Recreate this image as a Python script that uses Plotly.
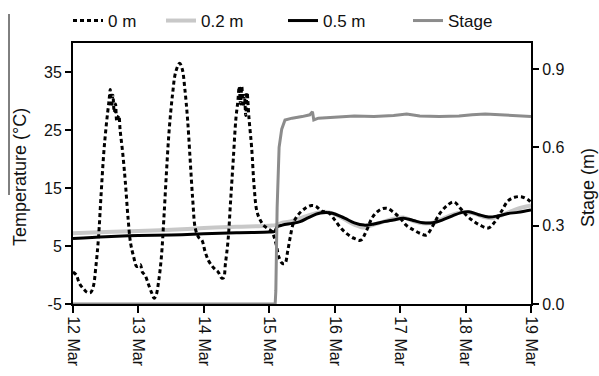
import pandas as pd
import plotly.graph_objects as go

START = pd.Timestamp("2013-03-12 00:00")

# ---- data (time in days since 12 Mar 00:00) ----
t_0m = [0.00, 0.05, 0.10, 0.17, 0.22, 0.27, 0.31, 0.35, 0.39, 0.43, 0.47, 0.51, 0.55, 0.57,
        0.59, 0.61, 0.63, 0.65, 0.67, 0.70, 0.72, 0.76, 0.80, 0.84, 0.88, 0.93, 0.97, 1.00,
        1.03, 1.06, 1.10, 1.15, 1.20, 1.24, 1.27, 1.31, 1.35, 1.39, 1.43, 1.47, 1.52, 1.57,
        1.63, 1.67, 1.71, 1.75, 1.79, 1.83, 1.87, 1.92, 1.97, 2.02, 2.07, 2.13, 2.17, 2.22,
        2.27, 2.30, 2.33, 2.37, 2.41, 2.45, 2.49, 2.52, 2.54, 2.56, 2.58, 2.60, 2.62, 2.64,
        2.66, 2.69, 2.73, 2.77, 2.81, 2.86, 2.92, 2.98, 3.04, 3.10, 3.15, 3.20, 3.24, 3.28,
        3.32, 3.37, 3.45, 3.55, 3.65, 3.72, 3.80, 3.90, 4.00, 4.10, 4.20, 4.30, 4.40, 4.48,
        4.58, 4.70, 4.80, 4.90, 5.00, 5.10, 5.20, 5.30, 5.40, 5.50, 5.60, 5.72, 5.82, 5.92,
        6.02, 6.12, 6.22, 6.35, 6.45, 6.55, 6.65, 6.75, 6.85, 6.95, 7.00]
temp_0m = [0.5, 0.0, -1.5, -2.5, -3.0, -3.0, -2.0, 1.5, 6.5, 14, 21, 26, 30, 32,
           29, 31, 28, 29.5, 26.5, 27.5, 25, 21, 16, 10, 5.5, 3, 1.5, 1.5,
           1.8, 0.5, 0, -1.5, -3.0, -4.0, -3.5, -1.0, 3, 10, 18, 25, 31, 35,
           36.5, 35.5, 32, 27, 20, 13, 8, 6.5, 6, 4, 2.5, 1.5, 1.0, 0.5,
           -0.5, -0.5, 2, 6, 13, 20, 27, 30, 32.5, 29.5, 32.5, 29, 31, 27.5,
           31.5, 27, 22, 15, 11, 9.5, 8.5, 8, 7.5, 5.5, 3.0, 2.0, 2.0, 4,
           6.5, 9, 10.5, 11.5, 12, 11.8, 11, 10.8, 9.5, 8.0, 7.0, 6.3, 6.0, 7.5,
           10, 11.3, 11.5, 10.8, 9.8, 8.5, 7.8, 7.2, 6.9, 8.5, 10.5, 12, 12.6, 11.5,
           10.2, 9.3, 8.6, 8.1, 9.2, 11, 12.8, 13.4, 13.5, 13, 12.5]

t_02m = [0.00, 0.5, 1.0, 1.5, 2.0, 2.5, 3.0, 3.1, 3.2, 3.3, 3.5, 3.7, 3.85, 4.0, 4.15,
         4.3, 4.45, 4.6, 4.75, 4.9, 5.05, 5.2, 5.35, 5.5, 5.65, 5.8, 5.95, 6.1, 6.25,
         6.4, 6.55, 6.7, 6.85, 7.0]
temp_02m = [7.2, 7.4, 7.6, 7.8, 8.1, 8.3, 8.5, 8.6, 9.0, 9.2, 9.9, 10.6, 10.9, 10.5, 9.6,
            8.7, 8.2, 8.7, 9.2, 9.7, 9.9, 9.3, 8.9, 9.0, 9.7, 10.4, 10.8, 10.7, 10.1,
            9.8, 10.3, 11.0, 11.6, 12.0]

t_05m = [0.00, 0.5, 1.0, 1.5, 2.0, 2.5, 3.0, 3.08, 3.12, 3.2, 3.35, 3.47, 3.6, 3.7, 3.78,
         3.95, 4.15, 4.3, 4.45, 4.6, 4.75, 4.9, 5.05, 5.2, 5.35, 5.5, 5.65, 5.8, 5.95,
         6.05, 6.2, 6.35, 6.5, 6.65, 6.8, 7.0]
temp_05m = [6.3, 6.6, 6.8, 6.9, 7.1, 7.3, 7.4, 7.5, 8.3, 8.6, 8.9, 9.2, 9.9, 10.4, 10.7,
            10.7, 9.8, 9.0, 8.6, 8.8, 9.2, 9.5, 9.8, 9.4, 9.0, 9.0, 9.5, 10.2, 10.8,
            10.9, 10.4, 10.0, 10.2, 10.6, 10.8, 11.2]

t_stage = [0.0, 3.09, 3.10, 3.12, 3.15, 3.19, 3.24, 3.35, 3.50, 3.62, 3.66, 3.68, 3.75,
           4.0, 4.3, 4.6, 4.9, 5.1, 5.3, 5.6, 5.9, 6.1, 6.3, 6.6, 6.85, 7.0]
stage = [0.0, 0.0, 0.05, 0.37, 0.60, 0.67, 0.705, 0.712, 0.718, 0.725, 0.737, 0.705, 0.712,
         0.716, 0.72, 0.718, 0.722, 0.728, 0.72, 0.718, 0.72, 0.725, 0.728, 0.724, 0.722, 0.718]

temp_ticks = [-5, 5, 15, 25, 35]
temp_ticktext = ["-5", "5", "15", "25", "35"]
stage_ticks = [0.0, 0.3, 0.6, 0.9]


def to_time(days):
    return START + pd.to_timedelta(days, unit="D")


FONT = "Liberation Sans, Arial, sans-serif"
L, R, T, B = 73, 68, 43, 72
W, H = 599, 376
PW, PH = W - L - R, H - T - B


def px_x(p):
    return (p - L) / PW


def px_y(p):
    return (H - B - p) / PH


fig = go.Figure()
fig.add_trace(go.Scatter(x=to_time(t_stage), y=stage, name="Stage", yaxis="y2",
                         mode="lines", line=dict(color="#8c8c8c", width=3),
                         legend="legend4"))
fig.add_trace(go.Scatter(x=to_time(t_02m), y=temp_02m, name="0.2 m", mode="lines",
                         line=dict(color="#c8c8c8", width=4, shape="spline"),
                         legend="legend2"))
fig.add_trace(go.Scatter(x=to_time(t_05m), y=temp_05m, name="0.5 m", mode="lines",
                         line=dict(color="black", width=3, shape="spline"),
                         legend="legend3"))
fig.add_trace(go.Scatter(x=to_time(t_0m), y=temp_0m, name="0 m", mode="lines",
                         line=dict(color="black", width=3, dash="4px,3px", shape="spline"),
                         legend="legend"))

leg_common = dict(orientation="h", xanchor="left", yanchor="middle",
                  xref="container", yref="container",
                  bgcolor="rgba(0,0,0,0)", font=dict(family=FONT, size=17, color="#111"))
ly = 1 - 21 / H
fig.update_layout(
    showlegend=True,
    legend=dict(x=68 / W, y=ly, **leg_common),
    legend2=dict(x=161 / W, y=ly, **leg_common),
    legend3=dict(x=283 / W, y=ly, **leg_common),
    legend4=dict(x=408 / W, y=ly, **leg_common),
)

fig.update_layout(
    width=W, height=H,
    margin=dict(l=L, r=R, t=T, b=B, pad=0, autoexpand=False),
    paper_bgcolor="white", plot_bgcolor="white",
    font=dict(family=FONT, size=16, color="#111"),
    xaxis=dict(type="date", range=[to_time(0), to_time(7)], dtick=86400000,
               tick0=to_time(0), tickformat="%d %b", tickangle=90,
               showgrid=False, zeroline=False, showline=True, linecolor="black",
               linewidth=2, mirror=True, ticks="outside", ticklen=7, tickwidth=2,
               tickcolor="black", tickfont=dict(size=16)),
    yaxis=dict(range=[-5, 40], tickvals=temp_ticks, ticktext=temp_ticktext,
               showgrid=False, zeroline=False,
               showline=True, linecolor="black", linewidth=2, ticks="outside",
               ticklen=6, tickwidth=2, tickcolor="black", tickfont=dict(size=16)),
    yaxis2=dict(range=[0, 1.0], tickvals=stage_ticks, tickformat=".1f",
                overlaying="y", side="right", showgrid=False, zeroline=False,
                showline=True, linecolor="black", linewidth=2, ticks="outside",
                ticklen=6, tickwidth=2, tickcolor="black", tickfont=dict(size=16)),
    annotations=[
        dict(text="Temperature (°C)", xref="paper", yref="paper",
             x=px_x(20), y=px_y(177), textangle=-90, showarrow=False,
             xanchor="center", yanchor="middle", font=dict(size=18, family=FONT)),
        dict(text="Stage (m)", xref="paper", yref="paper",
             x=px_x(588), y=px_y(188), textangle=-90, showarrow=False,
             xanchor="center", yanchor="middle", font=dict(size=18, family=FONT)),
    ],
    shapes=[dict(type="line", xref="paper", yref="paper",
                 x0=px_x(9), x1=px_x(9), y0=px_y(14), y1=px_y(195),
                 line=dict(color="black", width=1))],
)

fig.write_html("out.html")
